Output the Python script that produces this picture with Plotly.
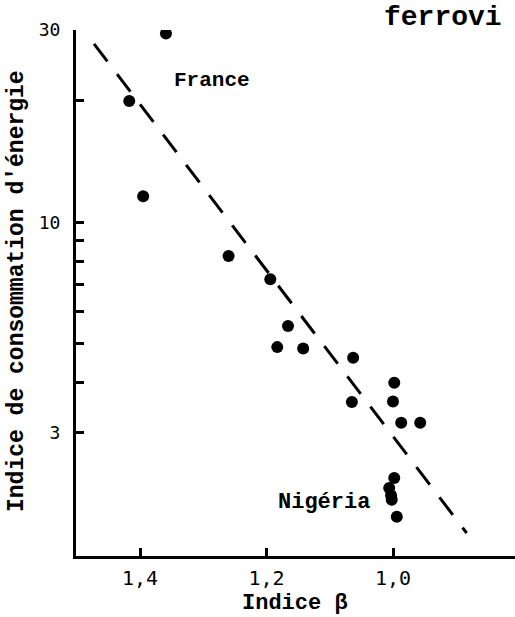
import plotly.graph_objects as go
import numpy as np

# ---- data ----
beta = [1.359, 1.417, 1.395, 1.260, 1.194, 1.166, 1.183, 1.142, 1.063,
        0.998, 1.065, 1.000, 0.987, 0.957,
        0.998, 1.006, 1.003, 1.002, 0.994]
energy = [29.4, 20.0, 11.6, 8.25, 7.22, 5.53, 4.90, 4.86, 4.61,
          4.00, 3.58, 3.59, 3.18, 3.18,
          2.32, 2.19, 2.10, 2.05, 1.86]

trend_beta = [1.4727, 0.8835]
trend_energy = [27.7, 1.694]

x_ticks = [1.4, 1.2, 1.0]
x_ticklabels = ["1,4", "1,2", "1,0"]
y_ticks = [30, 20, 10, 9, 8, 7, 6, 5, 4, 3]
y_ticklabels = ["30", "", "10", "", "", "", "", "", "", "3"]

labels = ["France", "Nigéria"]
label_beta = [1.349, 1.033]
label_energy = [22.5, 2.02]

MONO = "Courier New, Liberation Mono, monospace"

fig = go.Figure()
fig.add_trace(go.Scatter(x=trend_beta, y=trend_energy, mode="lines",
                         line=dict(color="black", width=3, dash="22px,16px"),
                         hoverinfo="skip", showlegend=False))
fig.add_trace(go.Scatter(x=beta, y=energy, mode="markers",
                         marker=dict(color="black", size=12, line=dict(width=0)),
                         showlegend=False))

# data labels
fig.add_annotation(x=label_beta[0], y=np.log10(label_energy[0]), xref="x", yref="y",
                   text=labels[0], showarrow=False, xanchor="left", yanchor="middle",
                   font=dict(family=MONO, size=21, color="black", weight="bold"))
fig.add_annotation(x=label_beta[1], y=np.log10(label_energy[1]), xref="x", yref="y",
                   text=labels[1], showarrow=False, xanchor="right", yanchor="middle",
                   font=dict(family=MONO, size=22, color="black", weight="bold"))

# axis titles
fig.add_annotation(x=-0.1344, y=0.5038, xref="paper", yref="paper",
                   text="Indice de consommation d'énergie", textangle=-90,
                   showarrow=False, xanchor="center", yanchor="middle",
                   font=dict(family=MONO, size=23, color="black", weight="bold"))
fig.add_annotation(x=0.4989, y=-0.0894, xref="paper", yref="paper",
                   text="Indice β", showarrow=False, xanchor="center", yanchor="middle",
                   font=dict(family=MONO, size=22, color="black", weight="bold"))
# truncated title fragment at top right
fig.add_annotation(x=0.697, y=1.057, xref="paper", yref="paper",
                   text="ferrovi", showarrow=False, xanchor="left", yanchor="top",
                   font=dict(family=MONO, size=28, color="black", weight="bold"))

fig.update_xaxes(range=[1.5012, 0.8071], tickvals=x_ticks, ticktext=x_ticklabels,
                 ticks="inside", ticklen=8, tickwidth=2.5, tickcolor="black",
                 showline=True, linewidth=3, linecolor="black",
                 showgrid=False, zeroline=False, ticklabelstandoff=2,
                 tickfont=dict(family="DejaVu Sans Mono", size=20, color="black"))
fig.update_yaxes(type="log", range=[0.1719, 1.4771], tickvals=y_ticks, ticktext=y_ticklabels,
                 ticks="inside", ticklen=8, tickwidth=2.5, tickcolor="black",
                 showline=True, linewidth=3, linecolor="black",
                 showgrid=False, zeroline=False, ticklabelstandoff=9,
                 tickfont=dict(family="DejaVu Sans Mono", size=18, color="black"))

fig.update_layout(width=515, height=617, autosize=False,
                  margin=dict(l=76, r=0, t=30, b=61),
                  paper_bgcolor="white", plot_bgcolor="white",
                  showlegend=False)

fig.write_html("out.html")
